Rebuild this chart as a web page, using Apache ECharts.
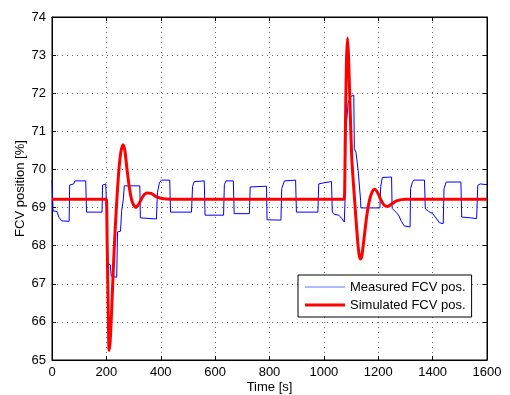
<!DOCTYPE html>
<html>
<head>
<meta charset="utf-8">
<script src="https://cdn.jsdelivr.net/npm/echarts@6/dist/echarts.min.js"></script>
<style>
  html, body { margin: 0; padding: 0; background: #fff; }
  #chart { width: 510px; height: 395px; }
</style>
</head>
<body>
<div id="chart"></div>
<script>
// Measured valve position (stepwise plant signal)
const measuredTime = [0, 3, 4, 18, 25, 35, 63, 65, 80, 84, 124, 127, 184, 186, 198, 202, 206, 214, 218, 238, 241, 252, 256, 262, 266, 323, 325, 384, 388, 395, 403, 433, 436, 513, 517, 523, 560, 563, 631, 634, 640, 667, 670, 726, 729, 789, 791, 842, 845, 855, 896, 899, 978, 981, 1000, 1028, 1031, 1040, 1055, 1065, 1075, 1078, 1081, 1089, 1098, 1110, 1112, 1118, 1126, 1135, 1136, 1206, 1209, 1215, 1249, 1251, 1258, 1265, 1275, 1285, 1295, 1317, 1319, 1325, 1330, 1370, 1373, 1385, 1400, 1415, 1425, 1439, 1442, 1450, 1504, 1507, 1540, 1562, 1566, 1575, 1600];
const measuredPos = [69.72, 69.72, 68.91, 68.90, 68.75, 68.65, 68.64, 69.59, 69.62, 69.70, 69.70, 68.88, 68.88, 69.59, 69.62, 68.50, 67.53, 67.50, 67.20, 67.17, 68.36, 68.38, 68.90, 69.20, 69.57, 69.57, 68.73, 68.70, 69.40, 69.65, 69.72, 69.72, 68.88, 68.88, 69.55, 69.68, 69.70, 68.80, 68.80, 69.60, 69.70, 69.70, 68.84, 68.84, 69.54, 69.56, 68.68, 68.67, 69.50, 69.70, 69.72, 68.88, 68.88, 69.62, 69.65, 69.68, 68.88, 68.82, 68.80, 68.72, 68.62, 69.20, 71.00, 71.74, 71.91, 71.95, 70.55, 70.45, 69.98, 69.19, 68.99, 68.99, 69.55, 69.79, 69.80, 68.98, 68.95, 68.88, 68.80, 68.64, 68.52, 68.49, 69.50, 69.65, 69.72, 69.72, 68.97, 68.90, 68.84, 68.70, 68.60, 68.58, 69.50, 69.67, 69.67, 68.75, 68.73, 68.71, 69.58, 69.62, 69.60];

// Simulated valve position (model response)
const simulatedTime = [0, 196, 200, 203, 207, 210, 214, 220, 228, 236, 244, 252, 261, 268, 276, 285, 295, 308, 320, 335, 350, 365, 385, 410, 440, 1070, 1075, 1079, 1083, 1087, 1091, 1097, 1103, 1113, 1124, 1130, 1135, 1140, 1148, 1158, 1168, 1178, 1187, 1197, 1210, 1222, 1235, 1250, 1270, 1300, 1600];
const simulatedPos = [69.22, 69.22, 69.22, 68.00, 66.20, 65.25, 65.50, 66.40, 67.80, 68.90, 69.80, 70.40, 70.65, 70.50, 70.00, 69.50, 69.15, 69.00, 69.10, 69.30, 69.38, 69.37, 69.28, 69.23, 69.22, 69.22, 69.22, 71.00, 72.80, 73.45, 72.90, 71.50, 70.25, 69.20, 68.14, 67.75, 67.65, 67.75, 68.20, 68.80, 69.20, 69.42, 69.48, 69.40, 69.20, 69.06, 69.03, 69.10, 69.18, 69.22, 69.22];

// Axis ticks
const timeTicks = [0, 200, 400, 600, 800, 1000, 1200, 1400, 1600];
const posTicks = [65, 66, 67, 68, 69, 70, 71, 72, 73, 74];

const seriesNames = ['Measured FCV pos.', 'Simulated FCV pos.'];

const zip = (xs, ys) => xs.map((x, i) => [x, ys[i]]);

const FONT = 'Liberation Sans, Arial, Helvetica, sans-serif';
const gridLine = { show: true, lineStyle: { color: '#666', width: 1, type: [1, 4] } };
const tickIn = { show: true, inside: true, length: 4, lineStyle: { color: '#000' } };

const chart = echarts.init(document.getElementById('chart'), null, { renderer: 'canvas' });

chart.setOption({
  animation: false,
  backgroundColor: '#fff',
  grid: {
    left: 52, right: 23, top: 17, bottom: 35,
    outerBoundsMode: 'none', containLabel: false,
    show: true, borderColor: '#000', borderWidth: 1
  },
  xAxis: [{
    type: 'value',
    min: timeTicks[0], max: timeTicks[timeTicks.length - 1],
    interval: timeTicks[1] - timeTicks[0],
    name: 'Time [s]', nameLocation: 'middle', nameGap: 21, nameMoveOverlap: false,
    nameTextStyle: { fontFamily: FONT, fontSize: 13, color: '#000' },
    axisLine: { show: true, onZero: false, lineStyle: { color: '#000' } },
    axisTick: tickIn,
    axisLabel: { fontFamily: FONT, fontSize: 13, color: '#000', margin: 6, formatter: v => String(v) },
    splitLine: gridLine
  }, {
    type: 'value', position: 'top',
    min: timeTicks[0], max: timeTicks[timeTicks.length - 1],
    interval: timeTicks[1] - timeTicks[0],
    axisLine: { show: true, onZero: false, lineStyle: { color: '#000' } },
    axisTick: tickIn, axisLabel: { show: false }, splitLine: { show: false }
  }],
  yAxis: [{
    type: 'value',
    min: posTicks[0], max: posTicks[posTicks.length - 1],
    interval: posTicks[1] - posTicks[0],
    name: 'FCV position [%]', nameLocation: 'middle', nameGap: 25, nameRotate: 90, nameMoveOverlap: false,
    nameTextStyle: { fontFamily: FONT, fontSize: 13, color: '#000' },
    axisLine: { show: true, onZero: false, lineStyle: { color: '#000' } },
    axisTick: tickIn,
    axisLabel: { fontFamily: FONT, fontSize: 13, color: '#000', margin: 6, formatter: v => String(v) },
    splitLine: gridLine
  }, {
    type: 'value', position: 'right',
    min: posTicks[0], max: posTicks[posTicks.length - 1],
    interval: posTicks[1] - posTicks[0],
    axisLine: { show: true, onZero: false, lineStyle: { color: '#000' } },
    axisTick: tickIn, axisLabel: { show: false }, splitLine: { show: false }
  }],
  legend: {
    orient: 'vertical',
    left: 298, top: 275,
    padding: [5, 6, 5, 7],
    itemGap: 4,
    itemWidth: 40, itemHeight: 3,
    itemTextGap: 5,
    backgroundColor: '#fff',
    borderColor: '#000', borderWidth: 1, borderRadius: 0,
    textStyle: { fontFamily: FONT, fontSize: 13, color: '#000', lineHeight: 14 },
    data: [
      { name: seriesNames[0], icon: 'path://M0,0h40v1h-40z', itemStyle: { color: '#6677ff' } },
      { name: seriesNames[1], icon: 'path://M0,0h40v3h-40z', itemStyle: { color: '#ff0000' } }
    ]
  },
  series: [{
    name: seriesNames[0],
    type: 'line',
    data: zip(measuredTime, measuredPos),
    showSymbol: false, symbol: 'none',
    lineStyle: { color: '#0000ff', width: 1 },
    itemStyle: { color: '#0000ff' },
    z: 2
  }, {
    name: seriesNames[1],
    type: 'line',
    data: zip(simulatedTime, simulatedPos),
    smooth: 0.25,
    showSymbol: false, symbol: 'none',
    lineStyle: { color: '#ff0000', width: 3 },
    itemStyle: { color: '#ff0000' },
    z: 3
  }]
});
</script>
</body>
</html>
